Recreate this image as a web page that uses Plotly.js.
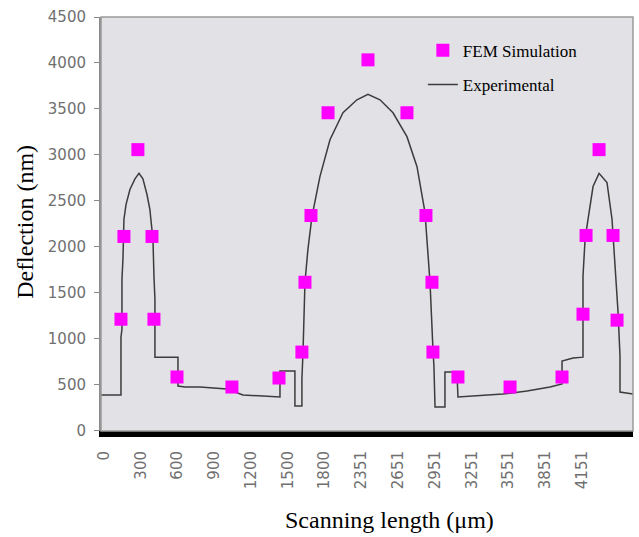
<!DOCTYPE html>
<html>
<head>
<meta charset="utf-8">
<script src="https://cdn.plot.ly/plotly-3.0.1.min.js"></script>
<style>html,body{margin:0;padding:0;background:#fff;}#chart{width:639px;height:537px;}</style>
</head>
<body>
<div id="chart"></div>
<script>
// Category-style x axis: each tick label sits 300 position units apart
var tickPositions = [0, 300, 600, 900, 1200, 1500, 1800, 2100, 2400, 2700, 3000, 3300, 3600, 3900];
var tickLabels = ['0', '300', '600', '900', '1200', '1500', '1800', '2351', '2651', '2951', '3251', '3551', '3851', '4151'];
var yTicks = [0, 500, 1000, 1500, 2000, 2500, 3000, 3500, 4000, 4500];

// FEM Simulation points (position units, nm)
var femX = [139, 163, 277, 392, 408, 596, 1044, 1428, 1615, 1640, 1689, 1828, 2154, 2472, 2627, 2676, 2684, 2888, 3313, 3737, 3908, 3933, 4039, 4153, 4186];
var femY = [1214, 2114, 3058, 2114, 1214, 586, 477, 575, 857, 1616, 2342, 3459, 4034, 3459, 2342, 1616, 857, 586, 477, 586, 1269, 2125, 3058, 2125, 1204];

// Experimental profile (position units, nm)
var expX = [-24, 139, 139, 147, 147, 155, 163, 180, 212, 253, 286, 318, 351, 375, 383, 400, 408, 416, 416, 604, 604, 661, 783, 1004, 1134, 1289, 1436, 1436, 1558, 1558, 1615, 1615, 1624, 1640, 1664, 1697, 1762, 1844, 1950, 2064, 2154, 2252, 2358, 2472, 2554, 2619, 2660, 2684, 2692, 2701, 2782, 2782, 2880, 2888, 3043, 3255, 3451, 3639, 3737, 3737, 3827, 3908, 3908, 3925, 3949, 3990, 4039, 4104, 4145, 4169, 4194, 4210, 4210, 4316];
var expY = [390, 390, 1019, 1106, 1648, 1865, 2299, 2461, 2624, 2740, 2800, 2740, 2570, 2407, 2299, 2082, 1681, 1431, 802, 802, 488, 477, 477, 455, 390, 380, 369, 651, 651, 271, 271, 564, 857, 1616, 1973, 2331, 2765, 3166, 3459, 3600, 3660, 3600, 3459, 3199, 2873, 2375, 1616, 889, 705, 260, 260, 640, 640, 369, 380, 401, 434, 477, 510, 759, 792, 802, 1681, 2082, 2299, 2657, 2800, 2700, 2299, 1833, 1290, 813, 423, 401];

var serif = 'Liberation Serif, Times New Roman, serif';
var sans = 'DejaVu Sans, Verdana, sans-serif';

var traces = [
  {
    x: expX, y: expY, type: 'scatter', mode: 'lines', name: 'Experimental',
    legendgroup: 'b', legendrank: 2,
    line: {color: '#3c3c3c', width: 1.5}
  },
  {
    x: femX, y: femY, type: 'scatter', mode: 'markers', name: 'FEM Simulation',
    legendgroup: 'a', legendrank: 1,
    marker: {symbol: 'square', size: 13, color: '#ff00ff'}
  }
];

var layout = {
  width: 639, height: 537,
  margin: {l: 101, r: 6, t: 17, b: 106},
  paper_bgcolor: '#ffffff',
  plot_bgcolor: '#e2e1e5',
  showlegend: true,
  legend: {
    x: 0.605, y: 0.962, xanchor: 'left', yanchor: 'top',
    bgcolor: 'rgba(0,0,0,0)', borderwidth: 0,
    traceorder: 'grouped', tracegroupgap: 9,
    font: {family: serif, size: 17, color: '#000'}
  },
  xaxis: {
    range: [-24, 4316],
    tickmode: 'array', tickvals: tickPositions, ticktext: tickLabels,
    tickangle: -90,
    tickfont: {family: sans, size: 15, color: '#707070'},
    ticklabelstandoff: 8,
    showgrid: false, zeroline: false,
    showline: true, linecolor: '#000000', linewidth: 6,
    ticks: ''
  },
  yaxis: {
    range: [-1, 4500],
    tickmode: 'array', tickvals: yTicks,
    tickfont: {family: sans, size: 15, color: '#707070'},
    ticklabelstandoff: 5,
    showgrid: false, zeroline: false,
    showline: true, linecolor: '#8a8a8a', linewidth: 2,
    ticks: 'outside', ticklen: 5, tickcolor: '#8a8a8a', tickwidth: 1
  },
  shapes: [
    {type: 'rect', xref: 'paper', yref: 'paper', x0: 0, x1: 1, y0: 0, y1: 1,
     line: {color: '#9a9a9a', width: 1.5}, fillcolor: 'rgba(0,0,0,0)'}
  ],
  annotations: [
    {text: 'Scanning length (μm)', xref: 'paper', yref: 'paper', x: 0.543, y: -0.214,
     xanchor: 'center', yanchor: 'middle', showarrow: false,
     font: {family: serif, size: 24, color: '#000'}},
    {text: 'Deflection (nm)', xref: 'paper', yref: 'paper', x: -0.143, y: 0.505,
     xanchor: 'center', yanchor: 'middle', showarrow: false, textangle: -90,
     font: {family: serif, size: 24, color: '#000'}}
  ]
};

Plotly.newPlot('chart', traces, layout, {displayModeBar: false, staticPlot: true});
</script>
</body>
</html>
